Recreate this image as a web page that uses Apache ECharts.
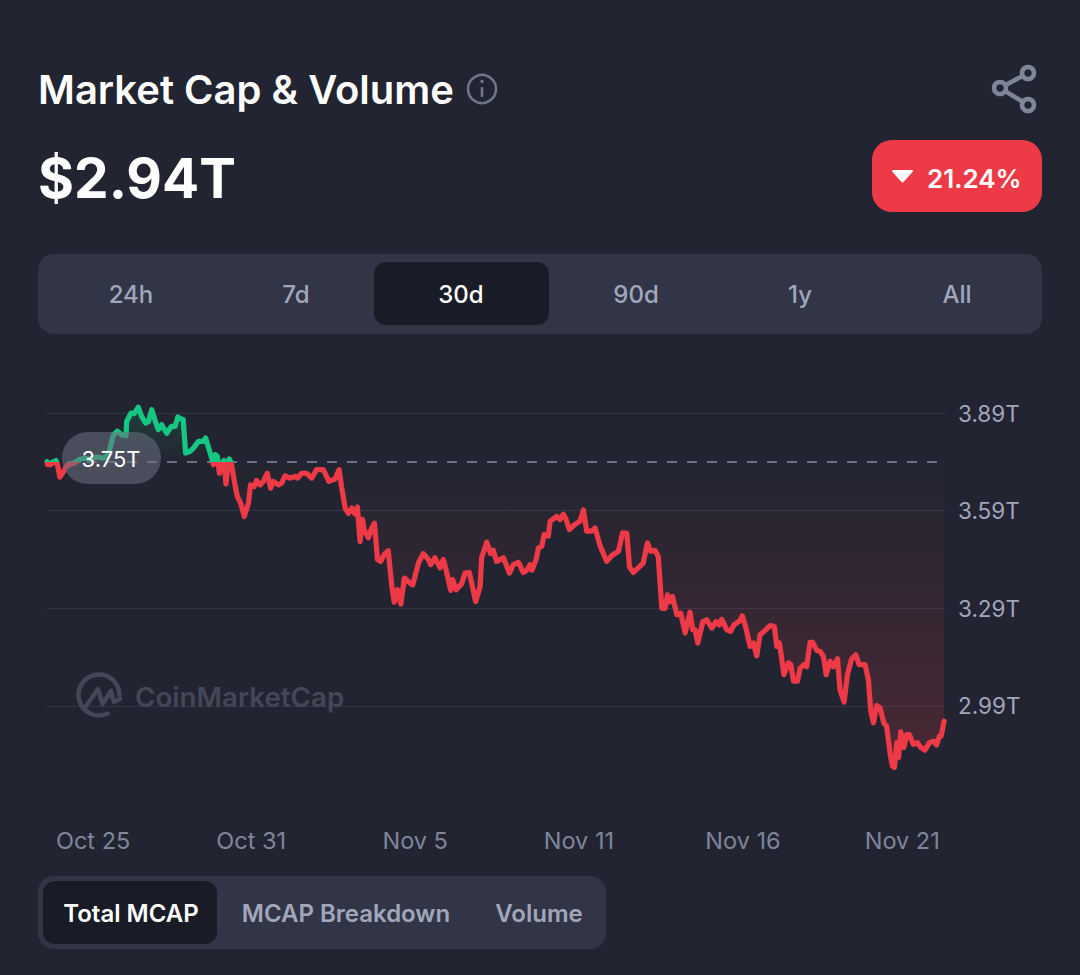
<!DOCTYPE html>
<html><head><meta charset="utf-8">
<style>html,body{margin:0;padding:0;background:#222531}#c{width:1080px;height:975px}</style>
<script src="https://cdn.jsdelivr.net/npm/echarts@6/dist/echarts.min.js"></script>
</head><body><div id="c"></div>
<script>
// Days since the start of the 30d window
const days = [0,0.02,0.12,0.19,0.23,0.30,0.35,0.43,0.55,0.66,0.82,0.94,1.10,1.27,1.44,1.66,1.88,2.05,2.22,2.35,2.49,2.64,2.66,2.81,2.91,3.05,3.16,3.30,3.39,3.50,3.64,3.72,3.83,4.00,4.16,4.28,4.37,4.47,4.55,4.63,4.78,4.89,5.06,5.22,5.30,5.45,5.52,5.56,5.62,5.69,5.76,5.82,5.91,5.98,6.05,6.09,6.16,6.28,6.36,6.47,6.59,6.73,6.80,6.92,7.00,7.12,7.23,7.36,7.47,7.56,7.73,7.84,7.95,8.12,8.29,8.37,8.51,8.67,8.84,9.01,9.23,9.42,9.62,9.76,9.84,9.96,10.07,10.18,10.29,10.37,10.46,10.54,10.59,10.74,10.85,10.94,11.04,11.15,11.26,11.40,11.52,11.60,11.71,11.82,11.94,12.13,12.22,12.41,12.57,12.74,12.82,12.96,13.13,13.24,13.33,13.49,13.55,13.67,13.85,13.97,14.11,14.32,14.47,14.52,14.69,14.82,14.91,15.02,15.25,15.45,15.58,15.75,15.91,16.03,16.14,16.20,16.34,16.42,16.53,16.61,16.75,16.81,17.03,17.14,17.25,17.34,17.45,17.64,17.81,17.92,18.03,18.18,18.31,18.48,18.70,18.87,19.09,19.23,19.37,19.46,19.59,19.92,20.06,20.17,20.31,20.42,20.54,20.65,20.73,20.81,20.90,21.04,21.17,21.32,21.48,21.57,21.65,21.74,21.91,22.04,22.21,22.35,22.46,22.54,22.71,22.84,22.95,23.15,23.23,23.35,23.49,23.60,23.71,23.82,23.99,24.16,24.30,24.38,24.47,24.62,24.77,24.85,24.94,25.07,25.16,25.29,25.38,25.49,25.58,25.72,25.83,25.94,26.03,26.16,26.27,26.41,26.49,26.63,26.74,26.88,27.02,27.13,27.22,27.33,27.44,27.52,27.61,27.72,27.83,27.96,28.05,28.17,28.24,28.31,28.39,28.45,28.52,28.63,28.72,28.81,28.94,29.08,29.19,29.33,29.48,29.61,29.72,29.81,29.87,29.97];
// Total market cap, trillions of USD
const caps = [3.741,3.731,3.731,3.740,3.738,3.744,3.731,3.693,3.710,3.728,3.734,3.738,3.748,3.751,3.748,3.755,3.751,3.762,3.823,3.834,3.823,3.820,3.864,3.890,3.888,3.908,3.880,3.859,3.864,3.900,3.859,3.839,3.854,3.828,3.849,3.849,3.878,3.872,3.870,3.767,3.772,3.782,3.803,3.803,3.813,3.767,3.746,3.731,3.762,3.757,3.705,3.734,3.744,3.672,3.734,3.749,3.734,3.669,3.633,3.613,3.572,3.613,3.669,3.664,3.683,3.669,3.680,3.705,3.659,3.680,3.669,3.675,3.697,3.690,3.695,3.690,3.705,3.705,3.690,3.716,3.716,3.680,3.687,3.716,3.664,3.598,3.582,3.598,3.580,3.601,3.495,3.563,3.532,3.507,3.537,3.551,3.440,3.434,3.455,3.467,3.357,3.309,3.347,3.303,3.383,3.367,3.362,3.429,3.458,3.440,3.424,3.445,3.414,3.440,3.409,3.345,3.378,3.347,3.365,3.398,3.400,3.311,3.357,3.445,3.493,3.458,3.468,3.434,3.445,3.398,3.424,3.431,3.400,3.407,3.424,3.407,3.440,3.476,3.481,3.517,3.512,3.558,3.572,3.563,3.579,3.563,3.532,3.548,3.558,3.592,3.527,3.527,3.537,3.481,3.434,3.452,3.465,3.522,3.520,3.417,3.400,3.429,3.491,3.465,3.468,3.450,3.290,3.290,3.331,3.310,3.326,3.270,3.275,3.214,3.278,3.224,3.224,3.183,3.249,3.254,3.229,3.249,3.239,3.256,3.224,3.219,3.239,3.252,3.267,3.229,3.173,3.183,3.144,3.208,3.222,3.237,3.234,3.173,3.183,3.086,3.122,3.117,3.066,3.066,3.106,3.117,3.110,3.185,3.185,3.160,3.157,3.142,3.086,3.127,3.110,3.135,3.040,3.002,3.086,3.134,3.147,3.117,3.117,3.117,3.071,2.974,2.938,2.991,2.984,2.936,2.928,2.841,2.806,2.801,2.877,2.831,2.910,2.862,2.902,2.902,2.872,2.877,2.862,2.854,2.877,2.882,2.870,2.897,2.897,2.943];
const baseline = 3.74;
const baselineLabel = '3.75T';
const yTicks = [3.89,3.59,3.29,2.99];
const xTickDays = [1.54,6.82,12.30,17.77,23.25,28.57];
const xTickLabels = ['Oct 25','Oct 31','Nov 5','Nov 11','Nov 16','Nov 21'];
const rangeTabs = ['24h','7d','30d','90d','1y','All'];
const metricTabs = ['Total MCAP','MCAP Breakdown','Volume'];

const BG='#222531', PANEL='#323546', ACTIVE='#191b26', RED='#ee3a46', GREEN='#16c784';
const FF='Inter, "Noto Sans", sans-serif';
const T=(text,x,y,size,weight,fill,align)=>({type:'text',z:100,style:{text,x,y,fill,font:`${weight} ${size}px ${FF}`,textAlign:align||'center',textVerticalAlign:'middle'}});
const R=(x,y,width,height,r,fill)=>({type:'rect',z:90,shape:{x,y,width,height,r},style:{fill}});
const tabX=[131,296,461,636,800,957], metricX=[131,346,539];
const capMax=Math.max(...caps), capMin=Math.min(...caps), split=(capMax-baseline)/(capMax-capMin);
const LOGO='#434757';

const graphics=[
  T('Market Cap & Volume',38,89,40,600,'#ffffff','left'),
  {type:'circle',z:90,shape:{cx:482,cy:89,r:14},style:{fill:'none',stroke:'#6f7689',lineWidth:2.5}},
  {type:'rect',z:90,shape:{x:480.7,y:87,width:2.6,height:10,r:1},style:{fill:'#6f7689'}},
  {type:'circle',z:90,shape:{cx:482,cy:81.5,r:1.7},style:{fill:'#6f7689'}},
  T('$2.94T',38,178,55,700,'#ffffff','left'),
  {type:'polyline',z:90,shape:{points:[[1028,73],[1000,88],[1028,105]]},style:{fill:'none',stroke:'#7f8699',lineWidth:4.5}},
  {type:'circle',z:91,shape:{cx:1000,cy:88,r:6},style:{fill:BG,stroke:'#7f8699',lineWidth:4.5}},
  {type:'circle',z:91,shape:{cx:1028,cy:73,r:6},style:{fill:BG,stroke:'#7f8699',lineWidth:4.5}},
  {type:'circle',z:91,shape:{cx:1028,cy:105,r:6},style:{fill:BG,stroke:'#7f8699',lineWidth:4.5}},
  R(872,140,170,72,20,RED),
  {type:'polygon',z:95,shape:{points:[[893,171],[912,171],[902.5,181.5]]},style:{fill:'#fff',stroke:'#fff',lineWidth:2,lineJoin:'round'}},
  T('21.24%',927,178,26,600,'#ffffff','left'),
  R(38,254,1004,80,16,PANEL),
  R(374,262,175,63,12,ACTIVE),
  ...rangeTabs.map((t,i)=>T(t,tabX[i],294,24,500,i===2?'#ffffff':'#a1a7bb')),
  R(38,876,568,73,16,PANEL),
  R(43,881,174,63,12,ACTIVE),
  ...metricTabs.map((t,i)=>T(t,metricX[i],913,24,600,i===0?'#ffffff':'#a1a7bb')),
  {type:'arc',z:2,shape:{cx:99,cy:695,r:20.5,startAngle:0,endAngle:1.13,clockwise:false},style:{fill:'none',stroke:LOGO,lineWidth:4.5,lineCap:'round'}},
  {type:'polyline',z:2,shape:{points:[[86,706],[98,689],[102.5,704],[111,691],[114,702],[120,699]]},style:{fill:'none',stroke:LOGO,lineWidth:4.5,lineCap:'round',lineJoin:'round'}},
  T('CoinMarketCap',135,697,27.7,600,LOGO,'left'),
  R(62,432,99,52,26,'rgba(108,112,128,0.55)'),
  T(baselineLabel,111,459,22,400,'#ffffff')
];

const chart=echarts.init(document.getElementById('c'),null,{renderer:'svg',width:1080,height:975});
chart.setOption({
  animation:false,
  backgroundColor:BG,
  grid:{left:47,right:135,top:393.5,bottom:191},
  graphic:graphics,
  visualMap:{show:false,type:'piecewise',seriesIndex:0,dimension:1,
    pieces:[{gte:baseline,lte:5,color:GREEN},{gte:0,lt:baseline,color:RED}]},
  xAxis:{type:'value',min:0,max:30,
    axisLine:{show:false},splitLine:{show:false},
    axisTick:{show:false,customValues:xTickDays},
    axisLabel:{customValues:xTickDays,margin:44,hideOverlap:false,color:'#7f8699',fontFamily:FF,fontSize:23.5,
      formatter:v=>xTickLabels[xTickDays.indexOf(v)]}},
  yAxis:{type:'value',position:'right',min:2.75,max:3.95,
    axisLine:{show:false},
    axisTick:{show:false,customValues:yTicks},
    splitLine:{show:true,lineStyle:{color:'#323546',width:1}},
    axisLabel:{customValues:yTicks,margin:13,color:'#a1a7bb',fontFamily:FF,fontSize:22.5,formatter:v=>v.toFixed(2)+'T'}},
  series:[{
    type:'line',showSymbol:false,smooth:false,z:5,
    data:days.map((d,i)=>[d,caps[i]]),
    lineStyle:{width:5.2,join:'round',cap:'round'},
    areaStyle:{origin:baseline,opacity:1,color:new echarts.graphic.LinearGradient(0,0,0,1,[
      {offset:0,color:'rgba(22,199,132,0.16)'},
      {offset:split,color:'rgba(22,199,132,0)'},
      {offset:split,color:'rgba(234,57,67,0)'},
      {offset:1,color:'rgba(234,57,67,0.2)'}])},
    markLine:{silent:true,symbol:'none',label:{show:false},
      lineStyle:{type:[10,10],color:'#6c7085',width:2.2},data:[{yAxis:baseline}]}
  }]
});
</script></body></html>
